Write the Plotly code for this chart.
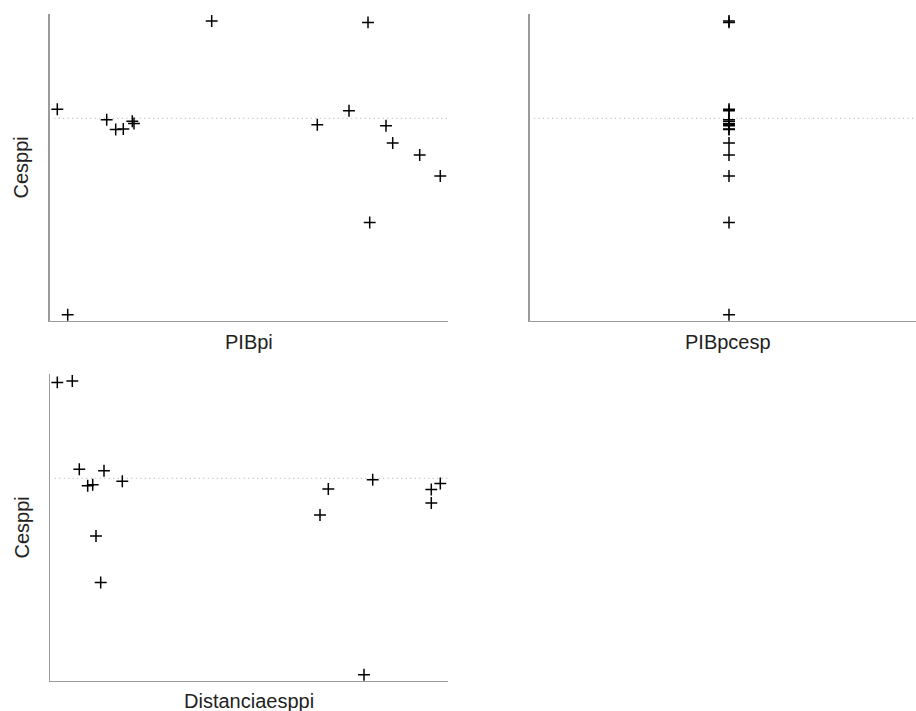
import plotly.graph_objects as go

W, H = 916, 711

# Data (arbitrary units; no tick labels in the original)
cesppi = [0.063, 0.985, 1.450, 1.660, 1.780, 1.915, 1.920, 1.953, 1.963,
          1.975, 1.998, 2.013, 2.103, 2.118, 2.986, 3.000]
pibpi = [18.2, 320.2, 390.8, 370.2, 343.2, 66.2, 73.8, 336.5, 267.8,
         84.5, 82.8, 57.2, 299.5, 7.8, 318.5, 162.2]
pibpcesp = [199.5] * 16
distanciaesppi = [314.0, 50.7, 46.0, 270.0, 381.3, 381.3, 278.3, 37.7, 42.7,
                  390.3, 72.3, 322.7, 54.0, 29.3, 7.3, 22.3]
ref_level = 2.027

x_titles = ["PIBpi", "PIBpcesp", "Distanciaesppi"]
y_title = "Cesppi"

FONT = "Liberation Sans, Arial, Helvetica, sans-serif"
AXC = "#9a9a9a"

fig = go.Figure()

def px_x(p):
    return min(1.0, p / W)

def px_y(p):
    return 1 - p / H

marker = dict(symbol="cross-thin", size=8.5, color="black",
              line=dict(color="black", width=1.5))

series = [(pibpi, "x", "y"), (pibpcesp, "x2", "y2"), (distanciaesppi, "x3", "y3")]
for xs, xa, ya in series:
    fig.add_trace(go.Scatter(x=xs, y=cesppi, mode="markers", marker=marker,
                             xaxis=xa, yaxis=ya, showlegend=False,
                             hoverinfo="skip"))

def ax(domain, rng):
    return dict(domain=domain, range=rng, showline=True, linecolor=AXC,
                linewidth=1.2, showgrid=False, zeroline=False, ticks="",
                showticklabels=False, mirror=False, fixedrange=True)

# panel domains (page-pixel based)
p1x = [px_x(49.5), px_x(448)]
p1y = [px_y(321), px_y(14)]
p2x = [px_x(529.5), 1.0]
p3x = [px_x(50), px_x(448)]
p3y = [px_y(681), px_y(374)]

yr = [0, 3.07]
fig.update_layout(
    xaxis=ax(p1x, [0, 398.5]), yaxis=ax(p1y, yr),
    xaxis2=ax(p2x, [0, 386.5]), yaxis2=ax(p1y, yr),
    xaxis3=ax(p3x, [0, 398]), yaxis3=ax(p3y, yr),
)
fig.layout.yaxis.update(anchor="x")
fig.layout.xaxis.update(anchor="y")
fig.layout.yaxis2.update(anchor="x2")
fig.layout.xaxis2.update(anchor="y2")
fig.layout.yaxis3.update(anchor="x3")
fig.layout.xaxis3.update(anchor="y3")

# dotted reference line in each panel
for xa, ya in [("x", "y"), ("x2", "y2"), ("x3", "y3")]:
    fig.add_shape(type="line", xref=f"{xa} domain", yref=ya, x0=0.012, x1=1,
                  y0=ref_level, y1=ref_level,
                  line=dict(color="#a8a8a8", width=1, dash="1px,3.5px"),
                  layer="below")

# axis titles as annotations
tf = dict(family=FONT, size=20, color="#222222")
ann = [
    dict(text=x_titles[0], x=px_x(248.7), y=px_y(342)),
    dict(text=x_titles[1], x=px_x(728), y=px_y(342)),
    dict(text=x_titles[2], x=px_x(248.7), y=px_y(701)),
    dict(text=y_title, x=px_x(21), y=px_y(167.5), textangle=-90),
    dict(text=y_title, x=px_x(21), y=px_y(527.5), textangle=-90),
]
for a in ann:
    fig.add_annotation(xref="paper", yref="paper", showarrow=False,
                       xanchor="center", yanchor="middle", font=tf, **a)

fig.update_layout(width=W, height=H, margin=dict(l=0, r=0, t=0, b=0),
                  paper_bgcolor="white", plot_bgcolor="white",
                  font=dict(family=FONT), hovermode=False)

# remove the default 8px page margin so the figure fills the window exactly
fig.write_html("out.html",
               config={"displayModeBar": False, "staticPlot": True},
               post_script="document.body.style.margin='0';"
                           "document.documentElement.style.overflow='hidden';")
